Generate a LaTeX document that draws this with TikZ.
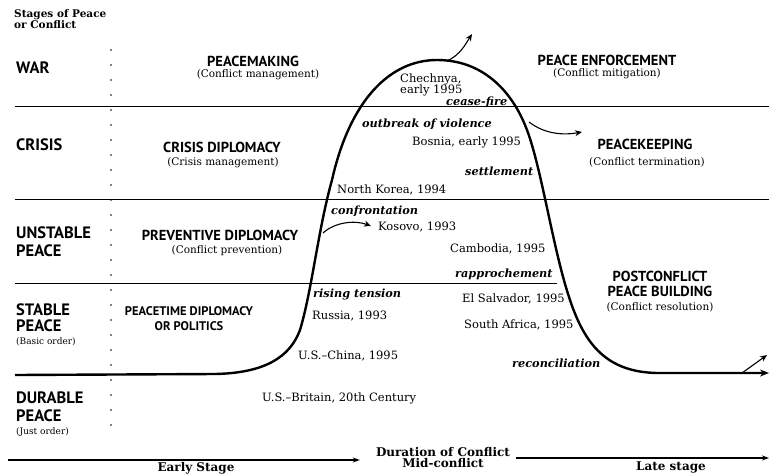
\documentclass[tikz,border=0pt]{standalone}
\usepackage{fontspec}
\setmainfont{DejaVu Serif}
\newfontfamily\stagefont{PT Sans}
\usetikzlibrary{positioning,arrows.meta}
\newcommand{\stagedots}{\foreach \y in {50,65,...,430} {\fill (111,\y) circle (0.9);}}
\tikzset{
	stage/.style={font=\stagefont\bfseries\fontsize{16.5}{18}\selectfont, align=left, anchor=north west, inner sep=0},
	stagesub/.style={font=\fontsize{9}{10}\selectfont, anchor=north west, inner sep=0},
	policy/.style={font=\stagefont\bfseries\fontsize{14.5}{15}\selectfont, align=center, inner sep=0},
	policysub/.style={font=\fontsize{10.5}{12}\selectfont, inner sep=0},
	case/.style={font=\fontsize{11.5}{10.5}\selectfont, align=left, anchor=west, inner sep=0},
	phase/.style={font=\bfseries\itshape\fontsize{11.3}{12}\selectfont, anchor=west, inner sep=0},
	axislabel/.style={font=\bfseries\fontsize{12}{13}\selectfont, inner sep=0},
	band/.style={line width=0.6pt},
	path/.style={line width=2.4pt},
	turn/.style={line width=1.1pt, -{Stealth[length=7pt,width=6pt]}},
	axis/.style={line width=1.2pt, -{Stealth[length=7pt,width=5pt]}}
}
\begin{document}
\begin{tikzpicture}[x=1pt,y=-1pt]
	\useasboundingbox (0,0) rectangle (769,475);
	
	% stage column
	\node[font=\bfseries\fontsize{10.5}{11.5}\selectfont, align=left, anchor=north west, inner sep=0] (title) at (14,9) {Stages of Peace\\or Conflict};
	\node[stage] (war) at (16,62) {WAR};
	\node[stage] (crisis) at (16,139) {CRISIS};
	\node[stage] (unstable) at (16,227) {UNSTABLE\\PEACE};
	\node[stage, font=\stagefont\bfseries\fontsize{16.5}{16}\selectfont] (stable) at (16,304) {STABLE\\PEACE};
	\node[stagesub] (basic) at (16,337) {(Basic order)};
	\node[stage] (durable) at (16,392) {DURABLE\\PEACE};
	\node[stagesub] (just) at (16,427) {(Just order)};
	\stagedots
	
	% bands
	\draw[band] (15,106) -- (769,106);
	\draw[band] (15,199) -- (769,199);
	\draw[band] (15,283) -- (557,283);
	
	% policies
	\node[policy] (pm) at (253,61) {PEACEMAKING};
	\node[policysub] (pmsub) at (258,75) {(Conflict management)};
	\node[policy] (cd) at (222,147) {CRISIS DIPLOMACY};
	\node[policysub] (cdsub) at (223,163) {(Crisis management)};
	\node[policy] (pd) at (220,235) {PREVENTIVE DIPLOMACY};
	\node[policysub] (pdsub) at (227,251) {(Conflict prevention)};
	\node[policy, font=\stagefont\bfseries\fontsize{12.5}{15}\selectfont] (ptd) at (189,318.5) {PEACETIME DIPLOMACY\\OR POLITICS};
	\node[policy] (pe) at (607,60.5) {PEACE ENFORCEMENT};
	\node[policysub] (pesub) at (607,74) {(Conflict mitigation)};
	\node[policy] (pk) at (645,144) {PEACEKEEPING};
	\node[policysub] (pksub) at (647,162) {(Conflict termination)};
	\node[policy] (pcb) at (660,283.5) {POSTCONFLICT\\PEACE BUILDING};
	\node[policysub] (pcbsub) at (660,307) {(Conflict resolution)};
	
	% conflict curve
	\draw[path, -{Stealth[length=9pt,width=7pt]}] (15,375) -- (215,374)
		.. controls (265,373) and (290,357) .. (300,330)
		.. controls (312,290) and (318,230) .. (332,180)
		.. controls (350,100) and (390,60) .. (437,60)
		.. controls (482,60) and (512,90) .. (527,130)
		.. controls (542,170) and (553,250) .. (570,300)
		.. controls (585,345) and (607,372) .. (657,373) -- (769,373);
	
	\coordinate (peak) at (447,61);
	\coordinate (esc) at (529,122);
	\coordinate (rise) at (323,233);
	\coordinate (tail) at (742,373);
	\draw[turn] (peak) .. controls (460,55) and (465,45) .. (472,34);
	\draw[turn] (esc) .. controls (546,135) and (565,135) .. (582,132);
	\draw[turn] (rise) .. controls (335,222) and (355,220) .. (371,226);
	\draw[turn] (tail) -- (767,355);
	
	% cases and phases
	\node[case] (chechnya) at (400,79) {Chechnya,};
	\node[case] (early95) at (400,90) {early 1995};
	\node[phase] (ceasefire) at (446,102) {cease-fire};
	\node[phase] (outbreak) at (362,124) {outbreak of violence};
	\node[case] (bosnia) at (412,142) {Bosnia, early 1995};
	\node[phase] (settle) at (465,171) {settlement};
	\node[case] (korea) at (337,190) {North Korea, 1994};
	\node[phase] (confront) at (331,211) {confrontation};
	\node[case] (kosovo) at (378,227) {Kosovo, 1993};
	\node[case] (cambodia) at (450,249) {Cambodia, 1995};
	\node[phase] (rapproche) at (455,274) {rapprochement};
	\node[phase] (tension) at (313,294) {rising tension};
	\node[case] (russia) at (312,316) {Russia, 1993};
	\node[case] (salvador) at (462,299) {El Salvador, 1995};
	\node[case] (africa) at (464,325) {South Africa, 1995};
	\node[case] (china) at (298,356) {U.S.–China, 1995};
	\node[phase] (reconcile) at (512,363) {reconciliation};
	\node[case] (britain) at (262,398) {U.S.–Britain, 20th Century};
	
	% duration axis
	\node[axislabel] (dur) at (443,452) {Duration of Conflict};
	\node[axislabel, below=1pt of dur] (mid) {Mid-conflict};
	\node[axislabel] (early) at (196,468) {Early Stage};
	\node[axislabel] (late) at (671,467) {Late stage};
	\coordinate (axL) at (8,460);
	\coordinate (axR) at (769,458);
	\draw[axis, shorten >=16pt] (axL) -- (axL -| dur.west);
	\draw[axis, shorten <=6pt] (dur.east |- axR) -- (axR);
	
\end{tikzpicture}
\end{document}
